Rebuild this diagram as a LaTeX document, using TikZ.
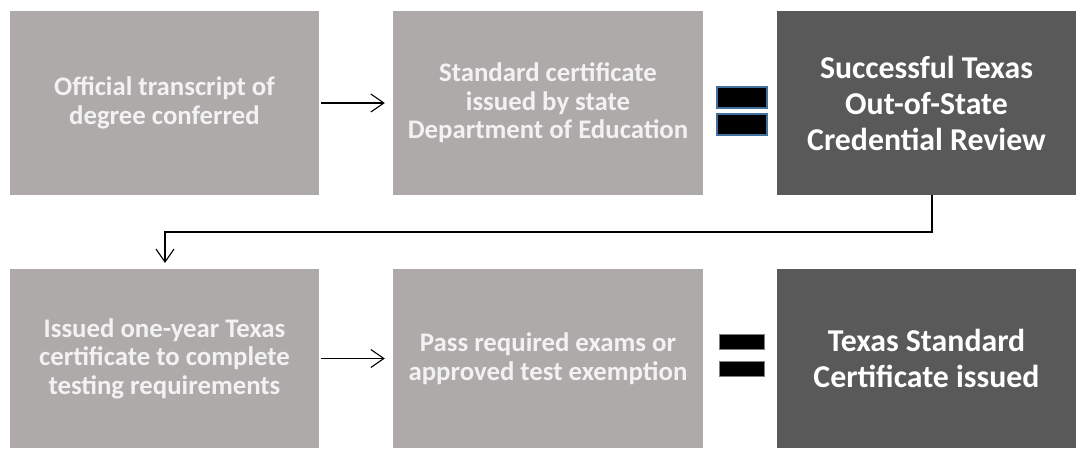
\documentclass[tikz,border=0pt]{standalone}
\usepackage{fontspec}
\setmainfont{Carlito}
\usetikzlibrary{arrows.meta}
\definecolor{lightbox}{HTML}{AEAAAA}
\definecolor{darkbox}{HTML}{595959}
\definecolor{eqblue}{HTML}{41719C}
\definecolor{txt}{HTML}{F2F2F2}
\tikzset{
  stepbox/.style={rectangle, fill=lightbox, draw=none, text=txt, font=\bfseries\fontsize{26.8}{28.5}\selectfont, align=center, inner sep=0pt},
  resultbox/.style={rectangle, fill=darkbox, draw=none, text=white, font=\bfseries\fontsize{31.8}{36}\selectfont, align=center, inner sep=0pt},
  flow/.style={draw=black, line width=1.1pt, -{Straight Barb[length=13pt,width=18pt,line width=1.1pt]}},
  eqbar/.style={fill=black, draw=eqblue, line width=2pt},
  eqbarplain/.style={fill=black, draw=gray, line width=0.6pt}
}
\begin{document}
\begin{tikzpicture}[x=1pt,y=-1pt]
\useasboundingbox (0,0) rectangle (1076,448);
% top row
\node[stepbox, minimum width=309pt, minimum height=184pt] (a) at (164.5,103) {Official transcript of\\degree conferred};
\node[stepbox, minimum width=310pt, minimum height=184pt] (b) at (548,103) {Standard certificate\\issued by state\\Department of Education};
\node[resultbox, minimum width=299pt, minimum height=184pt] (c) at (926.5,103) {Successful Texas\\Out-of-State\\Credential Review};
% bottom row
\node[stepbox, minimum width=309pt, minimum height=179pt] (d) at (164.5,358.5) {Issued one-year Texas\\certificate to complete\\testing requirements};
\node[stepbox, minimum width=310pt, minimum height=179pt] (e) at (548,358.5) {Pass required exams or\\approved test exemption};
\node[resultbox, minimum width=299pt, minimum height=179pt] (f) at (926.5,358.5) {Texas Standard\\Certificate issued};
% arrows
\draw[flow] ([xshift=2pt]a.east) -- ([xshift=-8pt]b.west);
\draw[flow] ([xshift=2pt]d.east) -- ([xshift=-8pt]e.west);
% connector
\coordinate (c1) at (932,195);
\coordinate (c2) at (932,232);
\coordinate (c3) at (165,232);
\coordinate (c4) at (165,263);
\draw[flow] (c1) -- (c2) -- (c3) -- (c4);
% equal signs
\draw[eqbar] (717,87) rectangle (767,108);
\draw[eqbar] (717,114) rectangle (767,135);
\draw[eqbarplain] (719,334) rectangle (764,349);
\draw[eqbarplain] (719,361) rectangle (764,376);
\end{tikzpicture}
\end{document}
